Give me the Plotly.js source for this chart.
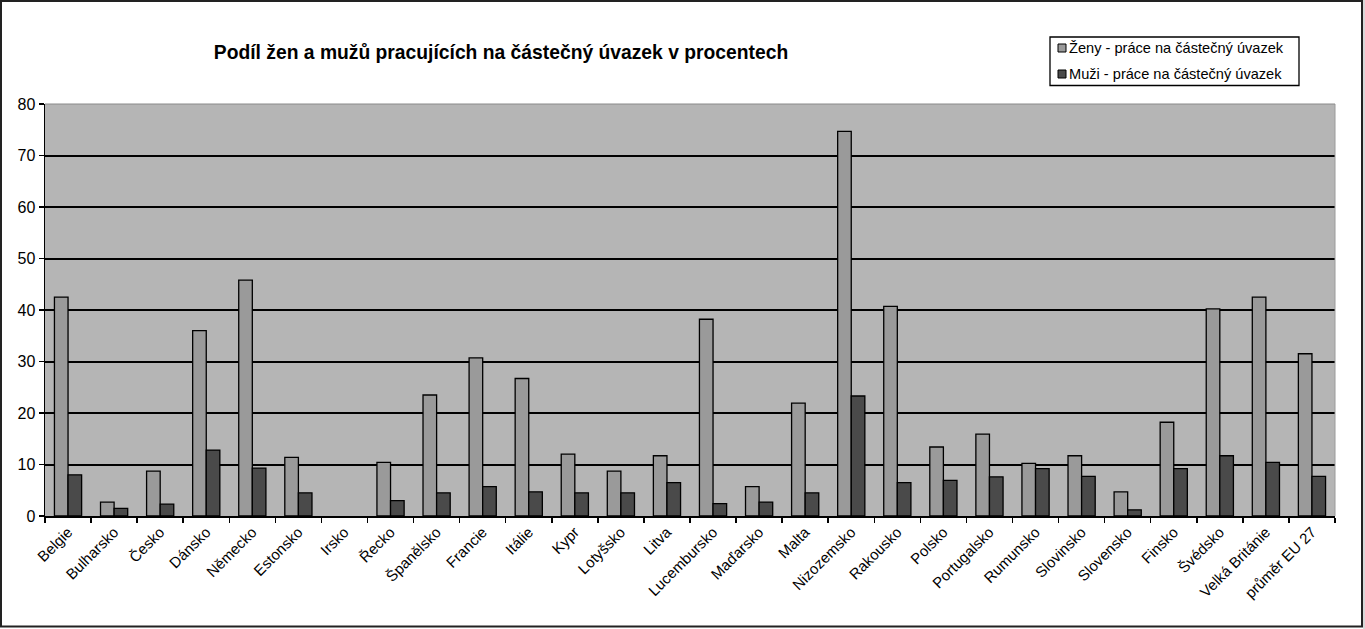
<!DOCTYPE html>
<html>
<head>
<meta charset="utf-8">
<script src="https://cdn.plot.ly/plotly-3.0.1.min.js"></script>
<style>html,body{margin:0;padding:0;background:#fff;}#chart{width:1365px;height:629px;}</style>
</head>
<body>
<div id="chart"></div>
<script>
const categories = ["Belgie","Bulharsko","Česko","Dánsko","Německo","Estonsko","Irsko","Řecko","Španělsko","Francie","Itálie","Kypr","Lotyšsko","Litva","Lucembursko","Maďarsko","Malta","Nizozemsko","Rakousko","Polsko","Portugalsko","Rumunsko","Slovinsko","Slovensko","Finsko","Švédsko","Velká Británie","průměr EU 27"];
const women = [42.5,2.7,8.7,36.0,45.8,11.4,null,10.4,23.5,30.7,26.7,12.0,8.7,11.7,38.2,5.7,21.9,74.7,40.7,13.4,15.9,10.2,11.7,4.7,18.2,40.2,42.5,31.5];
const men = [8.0,1.5,2.3,12.8,9.3,4.5,null,3.0,4.5,5.7,4.7,4.5,4.5,6.5,2.4,2.7,4.5,23.3,6.5,6.9,7.6,9.2,7.7,1.2,9.2,11.7,10.4,7.7];
const seriesNames = ["Ženy - práce na částečný úvazek","Muži - práce na částečný úvazek"];
const seriesColors = ['#9a9a9a','#4a4a4a'];

const L = 45, R = 1335, T = 104, B = 516;
const pw = R - L, ph = B - T;
const px = x => (x - L) / pw;
const py = y => (B - y) / ph;

const data = [
  {type:'bar', name:seriesNames[0], x:categories, y:women,
   marker:{color:seriesColors[0], line:{color:'#000', width:1.3}}},
  {type:'bar', name:seriesNames[1], x:categories, y:men,
   marker:{color:seriesColors[1], line:{color:'#000', width:1.3}}}
];

const legendRows = [48, 74];
const shapes = [
  {type:'line', xref:'paper', yref:'paper', x0:px(R), x1:px(R), y0:0, y1:1, line:{color:'#9a9a9a', width:1}},
  {type:'line', xref:'paper', yref:'paper', x0:0, x1:1, y0:1, y1:1, line:{color:'#8a8a8a', width:1}},
  {type:'rect', xref:'paper', yref:'paper', x0:px(1), x1:px(1362), y0:py(1), y1:py(626.5), line:{color:'#222', width:2}, fillcolor:'rgba(0,0,0,0)'},
  {type:'rect', xref:'paper', yref:'paper', x0:px(1363), x1:px(1366), y0:py(0), y1:py(629), line:{width:0}, fillcolor:'#d8d8d8'},
  {type:'rect', xref:'paper', yref:'paper', x0:px(1050), x1:px(1299), y0:py(37), y1:py(85.5), line:{color:'#000', width:1.3}, fillcolor:'#fff'}
];
const annotations = [];
seriesNames.forEach((n,i)=>{
  const yc = legendRows[i];
  shapes.push({type:'rect', xref:'paper', yref:'paper', x0:px(1058), x1:px(1066), y0:py(yc-4), y1:py(yc+4),
    line:{color:'#000', width:1}, fillcolor:seriesColors[i]});
  annotations.push({xref:'paper', yref:'paper', x:px(1067), y:py(yc), xanchor:'left', yanchor:'middle',
    text:n, showarrow:false, font:{size:14.6, color:'#000'}});
});

const layout = {
  width:1365, height:629,
  margin:{l:L, r:1365-R, t:T, b:629-B, pad:0},
  paper_bgcolor:'#fff', plot_bgcolor:'#b5b5b5',
  barmode:'group', bargap:0.41, bargroupgap:0,
  font:{family:'Liberation Sans, Arial, sans-serif', color:'#000'},
  title:{text:'<b>Podíl žen a mužů pracujících na částečný úvazek v procentech</b>',
    font:{size:19.3, color:'#000'}, xref:'container', x:501/1365, xanchor:'center',
    yref:'container', y:1-52/629, yanchor:'middle'},
  showlegend:false,
  xaxis:{type:'category', showgrid:false, showline:true, linecolor:'#000', linewidth:1.5,
    ticks:'outside', tickson:'boundaries', ticklen:5, tickcolor:'#000', tickwidth:1.5,
    tickangle:-45, tickfont:{size:15, color:'#000'}, fixedrange:true, mirror:false},
  yaxis:{range:[0,80], dtick:10, tick0:0, showgrid:true, gridcolor:'#000', gridwidth:2,
    showline:true, linecolor:'#000', linewidth:1.5, ticks:'outside', ticklen:5,
    tickcolor:'#000', tickwidth:1.5, tickfont:{size:16, color:'#000'}, zeroline:false,
    fixedrange:true},
  shapes: shapes,
  annotations: annotations
};

Plotly.newPlot('chart', data, layout, {displayModeBar:false, staticPlot:true});
</script>
</body>
</html>
